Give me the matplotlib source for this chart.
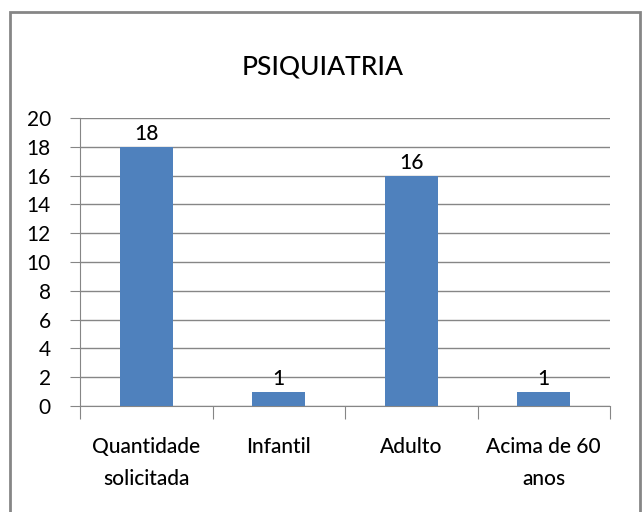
import matplotlib.pyplot as plt
from matplotlib.patches import Rectangle

categorias = ['Quantidade\nsolicitada', 'Infantil', 'Adulto', 'Acima de 60\nanos']
valores = [18, 1, 16, 1]
yticks = [0, 2, 4, 6, 8, 10, 12, 14, 16, 18, 20]

plt.rcParams['font.family'] = ['Lato', 'DejaVu Sans']

fig = plt.figure(figsize=(6.42, 5.12), dpi=100)
fig.patch.set_facecolor('white')

# moldura cinza do grafico
fig.patches.append(Rectangle((10 / 642, -0.05), 630 / 642, 1 - 12 / 512 + 0.05,
                             transform=fig.transFigure, fill=False,
                             edgecolor='#868686', linewidth=2))

ax = fig.add_axes([80 / 642, 1 - 406 / 512, 530 / 642, 288 / 512])
x = list(range(len(categorias)))
bars = ax.bar(x, valores, width=0.4, color='#4f81bd', zorder=3)

for b, v in zip(bars, valores):
    ax.text(b.get_x() + b.get_width() / 2, v + 0.2, str(v),
            ha='center', va='bottom', fontsize=15, fontweight='medium')

ax.set_xlim(-0.5, len(categorias) - 0.5)
ax.set_ylim(0, 20)
ax.set_yticks(yticks)
ax.set_yticklabels([str(t) for t in yticks], fontsize=15)
ax.yaxis.grid(True, color='#868686', linewidth=1, zorder=0)
ax.tick_params(axis='y', length=7, color='#868686', pad=14)

ax.set_xticks([i - 0.5 for i in range(len(categorias) + 1)])
ax.set_xticklabels([])
ax.set_xticks(x, minor=True)
ax.set_xticklabels(categorias, minor=True, fontsize=15, linespacing=1.75,
                   fontweight='medium')
ax.tick_params(axis='x', which='major', length=9, color='#868686')
ax.tick_params(axis='x', which='minor', length=0, pad=22)

for s in ['top', 'right']:
    ax.spines[s].set_visible(False)
for s in ['left', 'bottom']:
    ax.spines[s].set_color('#868686')

fig.text(323 / 642, 1 - 67 / 512, 'PSIQUIATRIA', ha='center', va='center',
         fontsize=19, fontweight='medium')

fig.savefig('out.png', dpi=100)
